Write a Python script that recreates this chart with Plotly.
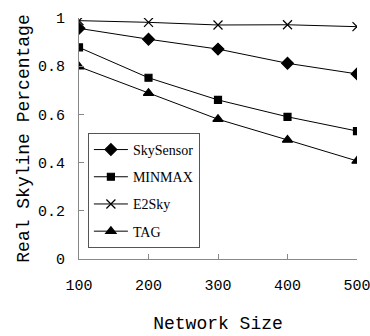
import plotly.graph_objects as go

network_size = [100, 200, 300, 400, 500]
skysensor = [0.957, 0.912, 0.871, 0.812, 0.768]
minmax = [0.878, 0.752, 0.660, 0.590, 0.531]
e2sky = [0.989, 0.982, 0.971, 0.972, 0.964]
tag = [0.798, 0.688, 0.580, 0.494, 0.407]

series = [
    ("SkySensor", skysensor, "diamond", 9),
    ("MINMAX", minmax, "square", 7),
    ("E2Sky", e2sky, "x-thin", 9),
    ("TAG", tag, "triangle-up", 9),
]

fig = go.Figure()
for i, (name, vals, sym, sz) in enumerate(series):
    fig.add_trace(go.Scatter(
        x=network_size, y=vals, name=name, mode="lines+markers",
        legendgroup=f"g{i}",
        line=dict(color="black", width=1),
        marker=dict(symbol=sym, size=sz, color="black",
                    line=dict(color="black", width=1.2)),
    ))

axis_font = dict(family="Liberation Mono", size=15, color="black")
fig.update_layout(
    width=370, height=336,
    margin=dict(l=79, r=13, t=18, b=77),
    paper_bgcolor="white", plot_bgcolor="white",
    showlegend=True,
    legend=dict(
        x=0.032, y=0.523, xanchor="left", yanchor="top",
        bordercolor="#555", borderwidth=1, bgcolor="white",
        font=dict(family="Liberation Serif", size=14, color="black"),
        traceorder="grouped", tracegroupgap=6,
        itemwidth=34,
    ),
    xaxis=dict(
        range=[100, 500], tickvals=network_size,
        ticks="inside", ticklen=5, tickcolor="#888",
        showline=True, linecolor="#888", linewidth=1,
        showgrid=False, zeroline=False, automargin=False,
        tickfont=axis_font, ticklabelstandoff=12, ticklabeloverflow="allow",
        title=dict(text="Network Size", font=dict(family="Liberation Mono", size=18, color="black"), standoff=22),
    ),
    yaxis=dict(
        range=[0, 1], tickvals=[0, 0.2, 0.4, 0.6, 0.8, 1],
        ticktext=["0", "0.2", "0.4", "0.6", "0.8", "1"],
        ticks="inside", ticklen=5, tickcolor="#888",
        showline=True, linecolor="#888", linewidth=1,
        showgrid=False, zeroline=False, automargin=False,
        tickfont=axis_font, ticklabelstandoff=10,
        title=dict(text="Real Skyline Percentage", font=dict(family="Liberation Mono", size=18, color="black"), standoff=3),
    ),
)
fig.write_html("out.html")
